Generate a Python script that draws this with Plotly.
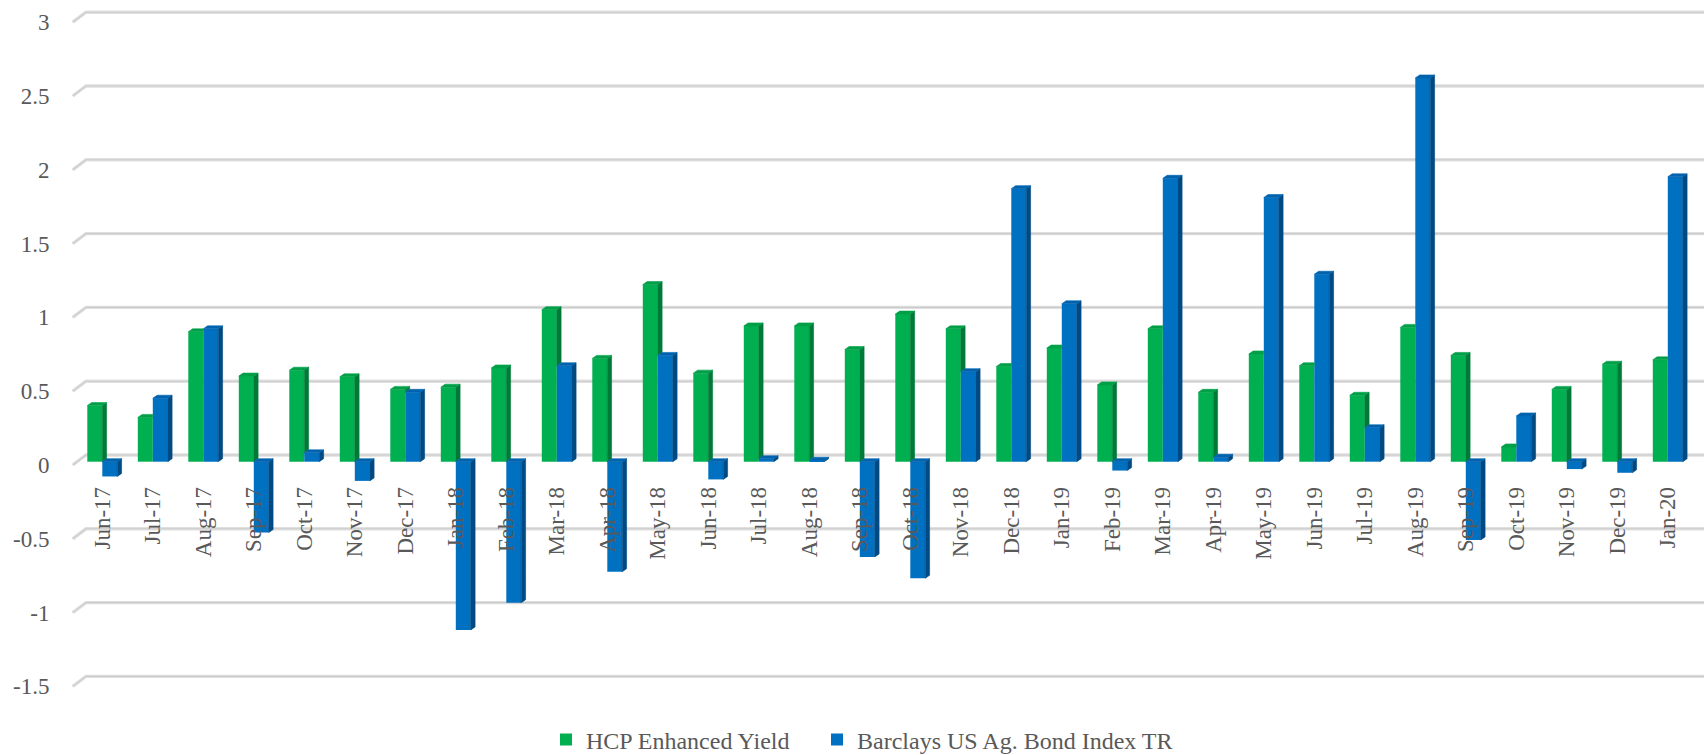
import plotly.graph_objects as go

# ---------------- data ----------------
categories = ["Jun-17", "Jul-17", "Aug-17", "Sep-17", "Oct-17", "Nov-17", "Dec-17",
              "Jan-18", "Feb-18", "Mar-18", "Apr-18", "May-18", "Jun-18", "Jul-18",
              "Aug-18", "Sep-18", "Oct-18", "Nov-18", "Dec-18", "Jan-19", "Feb-19",
              "Mar-19", "Apr-19", "May-19", "Jun-19", "Jul-19", "Aug-19", "Sep-19",
              "Oct-19", "Nov-19", "Dec-19", "Jan-20"]
hcp = [0.38, 0.30, 0.88, 0.58, 0.62, 0.575, 0.49, 0.505, 0.635, 1.03, 0.70, 1.20,
       0.60, 0.92, 0.92, 0.76, 1.00, 0.90, 0.645, 0.77, 0.52, 0.90, 0.47, 0.73,
       0.65, 0.45, 0.91, 0.72, 0.10, 0.49, 0.66, 0.69]
barclays = [-0.10, 0.43, 0.90, -0.48, 0.06, -0.13, 0.47, -1.14, -0.955, 0.65, -0.745, 0.72,
            -0.12, 0.02, 0.01, -0.645, -0.79, 0.61, 1.85, 1.07, -0.06, 1.92, 0.03, 1.79,
            1.27, 0.23, 2.60, -0.53, 0.31, -0.05, -0.075, 1.93]
series_names = ["HCP Enhanced Yield", "Barclays US Ag. Bond Index TR"]
y_ticks = [3, 2.5, 2, 1.5, 1, 0.5, 0, -0.5, -1, -1.5]
y_tick_text = ["3", "2.5", "2", "1.5", "1", "0.5", "0", "-0.5", "-1", "-1.5"]

# ---------------- style ----------------
GREEN, GREEN_SIDE, GREEN_TOP = "#00B050", "#007A38", "#00A048"
BLUE, BLUE_SIDE, BLUE_TOP = "#0070C0", "#004A84", "#0063AE"
TXT = "#595959"
FONT = "Liberation Serif"
FS = 23
FS_LEG = 24

W_FIG, H_FIG = 1705, 755
M_L, M_R, M_T, M_B = 72, 0, 8, 55
PLOT_W = W_FIG - M_L - M_R
PLOT_H = H_FIG - M_T - M_B
PX_X = 50.5      # px per category
PX_Y = 147.6     # px per value unit
C0 = 102.3       # px of first category centre
Y0 = 461.7       # px of value 0 (bar plane)

X_LEFT = (M_L - C0) / PX_X
X_RIGHT = (W_FIG - M_R - C0) / PX_X
Y_TOP = (Y0 - M_T) / PX_Y
Y_BOT = (Y0 - (H_FIG - M_B)) / PX_Y
ZERO_FRAC = ((H_FIG - M_B) - Y0) / PLOT_H

BARGAP = 0.406
W = (1 - BARGAP) / 2
DX = 4.3 / PX_X
DY = 3.0 / PX_Y
FRONT = 3.3 / PX_Y
BACK = 6.7 / PX_Y

xs = list(range(len(categories)))

fig = go.Figure()
fig.add_bar(x=xs, y=hcp, name=series_names[0], legend="legend",
            marker=dict(color=GREEN, line=dict(width=0)))
fig.add_bar(x=xs, y=barclays, name=series_names[1], legend="legend2",
            marker=dict(color=BLUE, line=dict(width=0)))


def poly_trace(polys, color):
    px, py = [], []
    for p in polys:
        for a, b in p:
            px.append(a)
            py.append(b)
        px.append(p[0][0])
        py.append(p[0][1])
        px.append(None)
        py.append(None)
    return go.Scatter(x=px, y=py, mode="lines", fill="toself", fillcolor=color,
                      line=dict(width=0.6, color=color), hoverinfo="skip", showlegend=False)


g_side, g_top, b_side, b_top = [], [], [], []
for i, (vg, vb) in zip(xs, zip(hcp, barclays)):
    # green (left) bar
    if vb < vg:
        b0 = max(vb, 0)
        g_side.append([(i, b0), (i, vg), (i + DX, vg + DY), (i + DX, b0 + DY)])
    if vb > vg:
        g_top.append([(i - W, vg), (i, vg), (i, vg + DY), (i - W + DX, vg + DY)])
    else:
        g_top.append([(i - W, vg), (i, vg), (i + DX, vg + DY), (i - W + DX, vg + DY)])
    # blue (right) bar
    r = i + W
    lo, hi = min(vb, 0), max(vb, 0)
    b_side.append([(r, lo), (r, hi), (r + DX, hi + DY), (r + DX, lo + DY)])
    b_top.append([(i, hi), (r, hi), (r + DX, hi + DY), (i + DX, hi + DY)])

fig.add_trace(poly_trace(g_side, GREEN_SIDE))
fig.add_trace(poly_trace(g_top, GREEN_TOP))
fig.add_trace(poly_trace(b_side, BLUE_SIDE))
fig.add_trace(poly_trace(b_top, BLUE_TOP))

# 3D-looking gridlines (front stub + back wall line)
XA = (72.7 - C0) / PX_X
XB = (86.0 - C0) / PX_X
XC = (1704.0 - C0) / PX_X
for v in y_ticks:
    path = f"M {XA},{v - FRONT} L {XB},{v + BACK} L {XC},{v + BACK}"
    fig.add_shape(type="path", path=path, xref="x", yref="y", layer="below",
                  line=dict(color="#e0e0e0", width=3.4))
    fig.add_shape(type="path", path=path, xref="x", yref="y", layer="below",
                  line=dict(color="#cbcbcb", width=1.1))

legend_common = dict(orientation="h", xanchor="left",
                     y=((H_FIG - M_B) - 740) / PLOT_H, yanchor="middle",
                     bgcolor="rgba(0,0,0,0)", borderwidth=0,
                     font=dict(family=FONT, size=FS_LEG, color=TXT))

fig.update_layout(
    width=W_FIG, height=H_FIG,
    margin=dict(l=M_L, r=M_R, t=M_T, b=M_B, autoexpand=False),
    paper_bgcolor="white", plot_bgcolor="white",
    barmode="group", bargap=BARGAP, bargroupgap=0,
    hovermode=False,
    font=dict(family=FONT, size=FS, color=TXT),
    xaxis=dict(range=[X_LEFT, X_RIGHT], tickvals=xs, ticktext=categories, tickangle=-90,
               anchor="free", position=ZERO_FRAC, showgrid=False, zeroline=False,
               showline=False, ticks="outside", ticklen=15, tickcolor="rgba(0,0,0,0)",
               tickfont=dict(family=FONT, size=FS, color=TXT)),
    yaxis=dict(range=[Y_BOT, Y_TOP], tickvals=[v - FRONT for v in y_ticks], ticktext=y_tick_text,
               showgrid=False, zeroline=False, showline=False, ticks="outside", ticklen=17,
               tickcolor="rgba(0,0,0,0)", tickfont=dict(family=FONT, size=FS, color=TXT)),
    legend=dict(x=(586 - 40 - M_L) / PLOT_W, **legend_common),
    legend2=dict(x=(857 - 40 - M_L) / PLOT_W, **legend_common),
)

fig.write_html("out.html", config={"displayModeBar": False},
               post_script="document.body.style.margin='0';document.body.style.overflow='hidden';")
